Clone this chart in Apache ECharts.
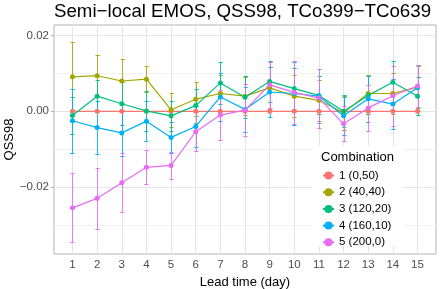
<!DOCTYPE html>
<html><head><meta charset="utf-8">
<script src="https://cdn.jsdelivr.net/npm/echarts@6/dist/echarts.min.js"></script>
<style>html,body{margin:0;padding:0;background:#fff}#c{width:441px;height:289px}</style>
</head><body><div id="c"></div>
<script>
const days = [1,2,3,4,5,6,7,8,9,10,11,12,13,14,15];
const yTicks = [-0.02, 0, 0.02];
const yMinor = [-0.03, -0.01, 0.01];
const names = ['1 (0,50)','2 (40,40)','3 (120,20)','4 (160,10)','5 (200,0)'];
const colors = ['#F8766D','#A3A500','#00BF7D','#00B0F6','#E76BF3'];
const comb1 = [0,0,0,0,0,0,0,0,0,0,0,0,0,0,0];
const err1  = [0,0,0,0,0,0,0,0,0,0,0,0,0,0,0];
const comb2 = [0.0091,0.0094,0.0080,0.0085,0.0004,0.0032,0.0047,0.0040,0.0062,0.0040,0.0029,-0.0004,0.0047,0.0047,0.0064];
const err2  = [0.0093,0.0054,0.0058,0.0035,0.0045,0.0045,0.0050,0.0050,0.0055,0.0055,0.0055,0.0045,0.0050,0.0055,0.0055];
const comb3 = [-0.0011,0.0040,0.0020,0.0001,-0.0012,0.0015,0.0075,0.0037,0.0079,0.0060,0.0042,0.0000,0.0042,0.0077,0.0040];
const err3  = [0.0050,0.0042,0.0057,0.0053,0.0040,0.0045,0.0055,0.0056,0.0055,0.0055,0.0050,0.0042,0.0050,0.0055,0.0050];
const comb4 = [-0.0025,-0.0043,-0.0057,-0.0026,-0.0069,-0.0040,0.0038,0.0005,0.0051,0.0047,0.0040,-0.0012,0.0033,0.0019,0.0062];
const err4  = [0.0085,0.0070,0.0060,0.0052,0.0041,0.0055,0.0063,0.0060,0.0065,0.0084,0.0071,0.0050,0.0060,0.0067,0.0060];
const comb5 = [-0.0255,-0.0230,-0.0189,-0.0148,-0.0143,-0.0054,-0.0010,0.0003,0.0070,0.0050,0.0035,-0.0033,0.0009,0.0041,0.0067];
const err5  = [0.0091,0.0080,0.0078,0.0045,0.0035,0.0052,0.0066,0.0068,0.0060,0.0084,0.0078,0.0046,0.0060,0.0080,0.0056];

const values = [comb1, comb2, comb3, comb4, comb5];
const errs = [err1, err2, err3, err4, err5];
const FONT = 'Liberation Sans, Arial, sans-serif';

const chart = echarts.init(document.getElementById('c'), null, {renderer: 'canvas'});

const gridLines = [];
yMinor.forEach(v => gridLines.push({yAxis: v, lineStyle: {color: '#f1f1f1', width: 1, type: 'solid'}}));
yTicks.forEach(v => gridLines.push({yAxis: v, lineStyle: {color: '#e4e4e4', width: 1, type: 'solid'}}));
days.forEach(d => gridLines.push({xAxis: d, lineStyle: {color: '#e4e4e4', width: 1, type: 'solid'}}));

const series = [{
  type: 'line', name: 'grid', z: 1, data: [[1, 0]], showSymbol: false, symbol: 'none',
  lineStyle: {opacity: 0}, silent: true,
  markLine: {silent: true, z: 1, symbol: 'none', label: {show: false}, animation: false, data: gridLines}
}];

values.forEach((vals, i) => {
  const e = errs[i];
  if (e.some(x => x > 0)) {
    const col = colors[i];
    series.push({
      type: 'custom', name: 'err' + i, z: 2, silent: true,
      itemStyle: {color: col},
      data: days.map((d, k) => [d, vals[k] - e[k], vals[k] + e[k]]),
      renderItem: function (params, api) {
        const x = api.value(0);
        const lo = api.coord([x, api.value(1)]);
        const hi = api.coord([x, api.value(2)]);
        const px = Math.round(hi[0]) + 0.5;
        const yt = Math.round(hi[1]) + 0.5;
        const yb = Math.round(lo[1]) + 0.5;
        const w = 2;
        return {
          type: 'polyline',
          shape: {points: [[px-w, yt], [px+w, yt], [px, yt], [px, yb], [px-w, yb], [px+w, yb]]},
          style: {stroke: col, fill: null, lineWidth: 1, opacity: 0.85}
        };
      }
    });
  }
});
values.forEach((vals, i) => {
  series.push({
    type: 'line', name: names[i], z: 3,
    data: days.map((d, k) => [d, vals[k]]),
    symbol: 'circle', symbolSize: 5, showSymbol: true,
    itemStyle: {color: colors[i]},
    lineStyle: {color: colors[i], width: 1.2}
  });
});

chart.setOption({
  animation: false,
  backgroundColor: '#fff',
  title: [
    {text: 'Semi\u2212local EMOS, QSS98, TCo399\u2212TCo639', left: 54, top: 2, padding: 0,
     textStyle: {fontFamily: FONT, fontSize: 18.7, fontWeight: 'normal', color: '#000'}},
    {text: 'Combination', left: 321, top: 151, padding: 0,
     textStyle: {fontFamily: FONT, fontSize: 13, fontWeight: 'normal', color: '#000'}}
  ],
  graphic: [{type: 'rect', z: 4, silent: true, shape: {x: 312, y: 146, width: 92, height: 100}, style: {fill: '#fff'}}],
  legend: {
    data: names, orient: 'vertical', left: 322, top: 169.5, padding: 0, z: 5,
    itemWidth: 11, itemHeight: 10, itemGap: 4.7,
    textStyle: {fontFamily: FONT, fontSize: 11.5, color: '#000'}
  },
  grid: {left: 54, top: 25, width: 382, height: 229, show: true, borderColor: '#b3b3b3', borderWidth: 1,
    backgroundColor: 'transparent', containLabel: false, outerBoundsMode: 'none'},
  xAxis: {
    type: 'value', min: 0.25, max: 15.75,
    name: 'Lead time (day)', nameLocation: 'middle', nameGap: 22, nameMoveOverlap: false,
    nameTextStyle: {fontFamily: FONT, fontSize: 13, color: '#000'},
    axisLine: {show: false},
    axisTick: {show: true, length: 3, customValues: days, lineStyle: {color: '#b3b3b3'}},
    axisLabel: {customValues: days, margin: 5, fontFamily: FONT, fontSize: 11.5, color: '#4d4d4d'},
    splitLine: {show: false}
  },
  yAxis: {
    type: 'value', min: -0.0377, max: 0.0228,
    name: 'QSS98', nameLocation: 'middle', nameGap: 38, nameRotate: 90, nameMoveOverlap: false,
    nameTextStyle: {fontFamily: FONT, fontSize: 13, color: '#000'},
    axisLine: {show: false},
    axisTick: {show: true, length: 3, customValues: yTicks, lineStyle: {color: '#b3b3b3'}},
    axisLabel: {customValues: yTicks, margin: 5, fontFamily: FONT, fontSize: 11.5, color: '#4d4d4d',
      formatter: v => (v < 0 ? '\u2212' : '') + Math.abs(v).toFixed(2)},
    splitLine: {show: false}
  },
  series: series
});
</script></body></html>
